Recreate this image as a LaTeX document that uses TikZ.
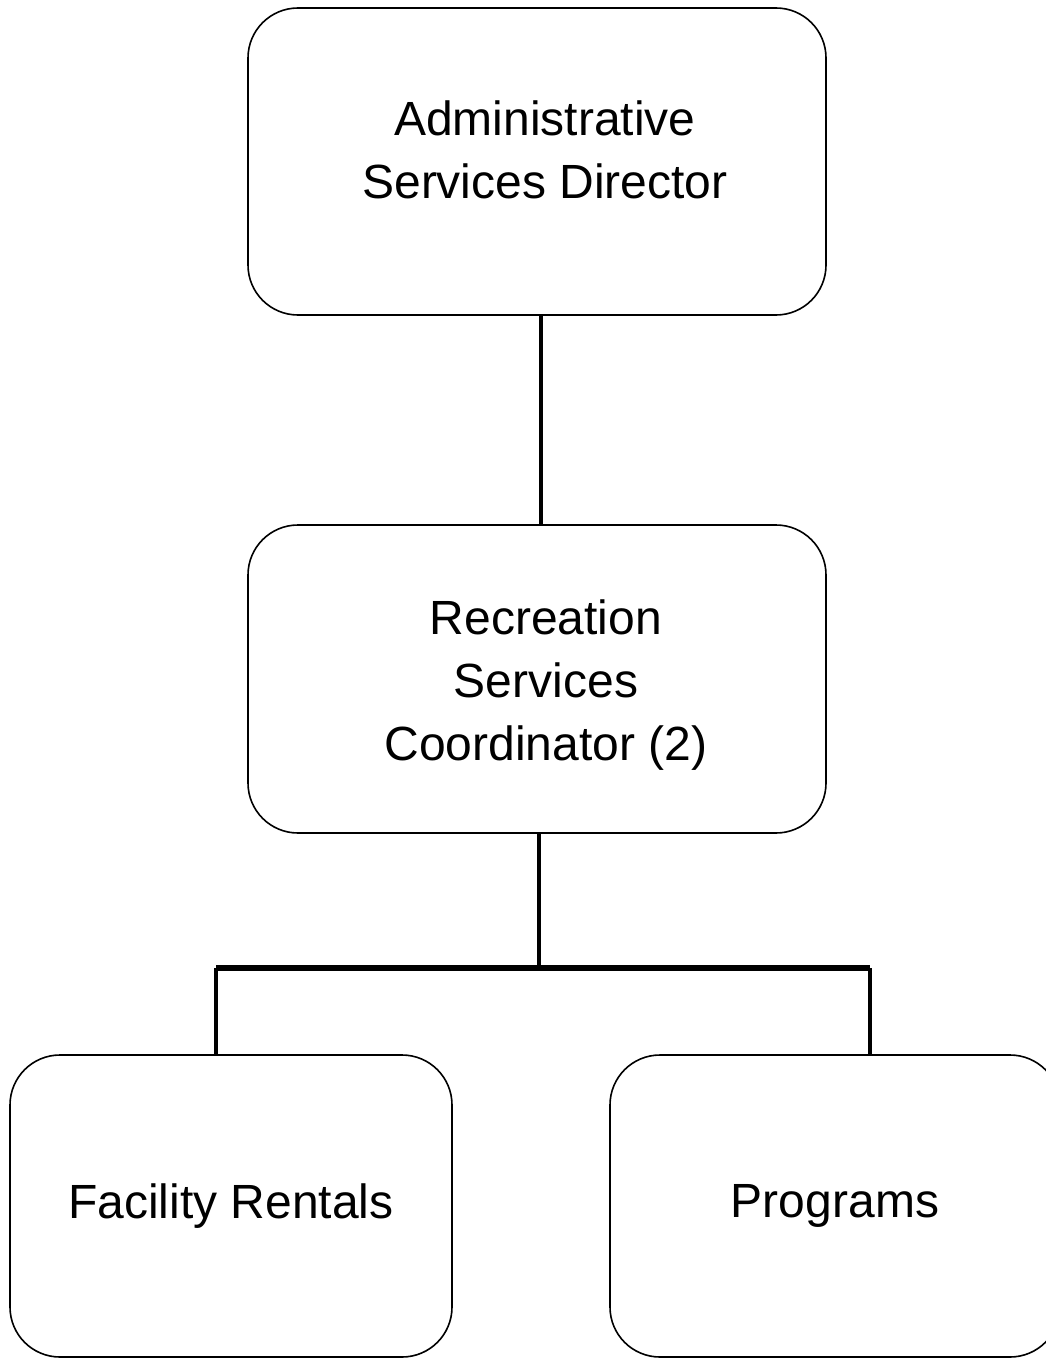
\documentclass[tikz,border=0pt]{standalone}
\usepackage{fontspec}
\setmainfont{Liberation Sans}
\usetikzlibrary{positioning}

\begin{document}
\begin{tikzpicture}[x=1pt,y=-1pt,
  orgbox/.style={draw, line width=1.6pt, rounded corners=50pt, inner sep=0pt},
  orgtext/.style={inner sep=0pt, align=center, font=\fontsize{48}{63}\selectfont},
  orgline/.style={line width=4.5pt}]
\useasboundingbox (0,0) rectangle (1046,1359);
\node[orgbox, minimum width=578pt, minimum height=307pt] (dir) at (537,161.5) {};
\node[orgbox, minimum width=578pt, minimum height=308pt] (coord) at (537,679) {};
\node[orgbox, minimum width=442pt, minimum height=302pt] (rent) at (231,1206) {};
\node[orgbox, minimum width=450pt, minimum height=302pt] (prog) at (835,1206) {};
\node[orgtext] (dirtext) at ([xshift=8pt,yshift=12pt]dir.center) {Administrative\\Services Director};
\node[orgtext] (coordtext) at ([xshift=9pt,yshift=-6pt]coord.center) {Recreation\\Services\\Coordinator (2)};
\node[orgtext] (renttext) at (rent.center) {Facility Rentals};
\node[orgtext] (progtext) at (prog.center) {Programs};
\coordinate (jl) at (216,968);
\coordinate (jr) at (870,968);
\draw[orgline] ([xshift=4pt]dir.south) -- ([xshift=4pt]coord.north);
\draw[orgline] ([xshift=2pt]coord.south) -- ([xshift=2pt]coord.south |- jl);
\draw[line width=6.5pt] (jl) -- (jr);
\draw[orgline] (jl) -- (jl |- rent.north);
\draw[orgline] (jr) -- (jr |- prog.north);
\end{tikzpicture}
\end{document}
